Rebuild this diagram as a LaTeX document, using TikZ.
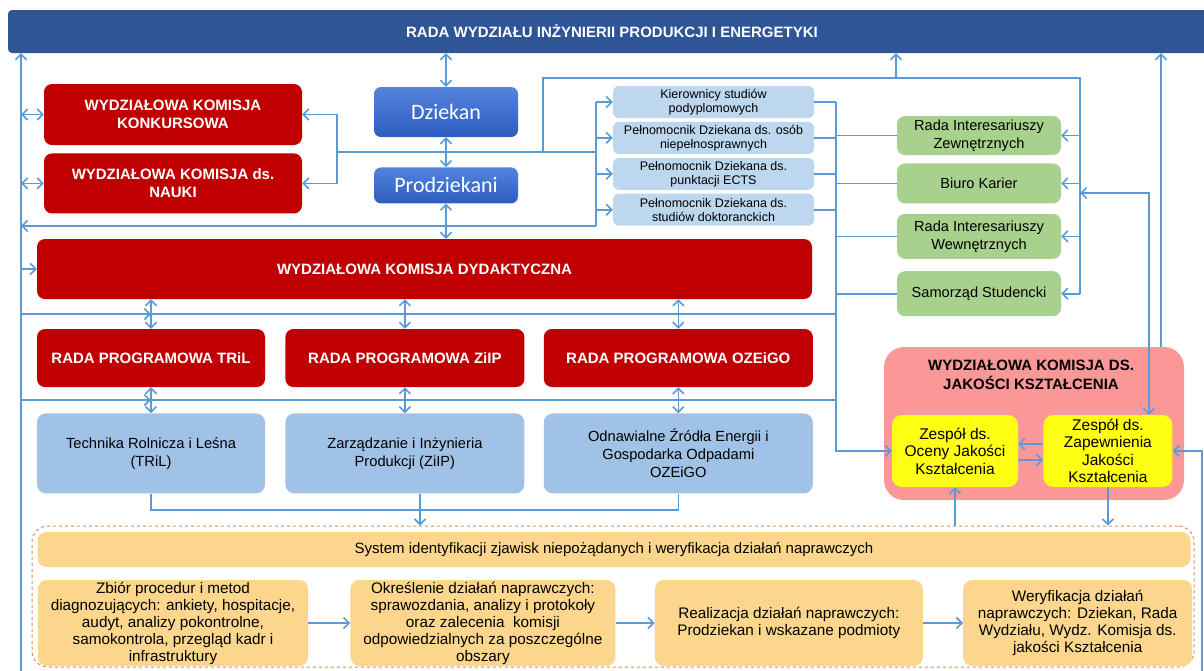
\documentclass[tikz,border=0pt]{standalone}
\usepackage{fontspec}
\setmainfont{Liberation Sans}
\newfontfamily\dzfont{Carlito}
\usetikzlibrary{arrows.meta, positioning}

\definecolor{radablue}{RGB}{47,85,151}
\definecolor{komred}{RGB}{192,0,0}
\definecolor{dztop}{RGB}{84,132,222}
\definecolor{dzbot}{RGB}{44,92,190}
\definecolor{lightbl}{RGB}{189,215,238}
\definecolor{progbl}{RGB}{160,194,230}
\definecolor{grn}{RGB}{169,209,142}
\definecolor{pinkq}{RGB}{250,152,152}
\definecolor{yelq}{RGB}{255,255,20}
\definecolor{orng}{RGB}{252,214,140}
\definecolor{orngdash}{RGB}{215,145,90}
\definecolor{linebl}{RGB}{91,155,213}

\begin{document}
\begin{tikzpicture}[
  x=1pt, y=-1pt,
  >={Straight Barb[length=5.5pt,width=11pt]},
  base/.style={rectangle, align=center, inner sep=1pt},
  radabar/.style={base, fill=radablue, rounded corners=4pt, text=white, font=\fontsize{15}{18}\selectfont\bfseries},
  redbox/.style={base, fill=komred, rounded corners=8pt, text=white, font=\fontsize{15}{18}\selectfont\bfseries},
  dzbox/.style={base, top color=dztop, bottom color=dzbot, rounded corners=7pt, text=white, font=\dzfont\fontsize{22}{24}\selectfont, minimum width=144pt},
  lbbox/.style={base, fill=lightbl, rounded corners=6pt, font=\fontsize{12.5}{14}\selectfont, minimum width=201pt, minimum height=32pt},
  grbox/.style={base, fill=grn, rounded corners=8pt, font=\fontsize{14.6}{18}\selectfont, minimum width=164pt},
  progbox/.style={base, fill=progbl, rounded corners=9pt, font=\fontsize{14.7}{18}\selectfont, minimum height=80pt},
  pinkbox/.style={base, fill=pinkq, rounded corners=20pt},
  ylbox/.style={base, fill=yelq, rounded corners=10pt, font=\fontsize{15.5}{17.5}\selectfont, minimum height=72pt},
  orbox/.style={base, fill=orng, rounded corners=9pt, font=\fontsize{15.3}{17}\selectfont, minimum height=86pt},
  framebox/.style={base, draw=orngdash, dashed, line width=1pt, rounded corners=16pt},
  flow/.style={->, line width=1.6pt, draw=linebl},
  flow2/.style={<->, line width=1.6pt, draw=linebl},
  link/.style={line width=1.6pt, draw=linebl}
]
\useasboundingbox[fill=white] (0,0) rectangle (1204,670);

% Rada Wydzialu
\node[radabar, minimum width=1208pt, minimum height=43pt] (rada) at (612,31.5) {RADA WYDZIAŁU INŻYNIERII PRODUKCJI I ENERGETYKI};

% komisje po lewej
\node[redbox, minimum width=258pt, minimum height=61pt] (wkk) at (173,114.5) {WYDZIAŁOWA KOMISJA\\KONKURSOWA};
\node[redbox, minimum width=258pt, minimum height=60pt, below=8pt of wkk] (wkn) {WYDZIAŁOWA KOMISJA ds.\\NAUKI};

% Dziekan
\node[dzbox, minimum height=50pt] (dziekan) at (446,112) {Dziekan};
\node[dzbox, minimum height=36pt, below=30pt of dziekan] (prodz) {Prodziekani};

% pelnomocnicy
\node[lbbox] (kier) at (713.5,102) {Kierownicy studiów\\podyplomowych};
\node[lbbox, below=3.5pt of kier] (pelnO) {Pełnomocnik Dziekana ds. osób\\niepełnosprawnych};
\node[lbbox, below=3.5pt of pelnO] (pelnE) {Pełnomocnik Dziekana ds.\\punktacji ECTS};
\node[lbbox, below=3.5pt of pelnE] (pelnD) {Pełnomocnik Dziekana ds.\\studiów doktoranckich};

% interesariusze
\node[grbox, minimum height=39pt] (riz) at (979,135.5) {Rada Interesariuszy\\Zewnętrznych};
\node[grbox, minimum height=40pt, below=8pt of riz] (biuro) {Biuro Karier};
\node[grbox, minimum height=45pt, below=10pt of biuro] (riw) {Rada Interesariuszy\\Wewnętrznych};
\node[grbox, minimum height=45pt, below=12pt of riw] (samorz) {Samorząd Studencki};

% komisja dydaktyczna
\node[redbox, minimum width=775pt, minimum height=60pt] (wkd) at (424.5,269) {WYDZIAŁOWA KOMISJA DYDAKTYCZNA};

% rady programowe
\node[redbox, minimum width=228pt, minimum height=58pt] (rpT) at (151,358) {RADA PROGRAMOWA TRiL};
\node[redbox, minimum width=239pt, minimum height=58pt, right=20pt of rpT] (rpZ) {RADA PROGRAMOWA ZiIP};
\node[redbox, minimum width=269pt, minimum height=58pt, right=19pt of rpZ] (rpO) {RADA PROGRAMOWA OZEiGO};

% kierunki
\node[progbox, minimum width=228pt, below=26pt of rpT] (prT) {Technika Rolnicza i Leśna\\(TRiL)};
\node[progbox, minimum width=239pt, below=26pt of rpZ] (prZ) {Zarządzanie i Inżynieria\\Produkcji (ZiIP)};
\node[progbox, minimum width=269pt, below=26pt of rpO] (prO) {Odnawialne Źródła Energii i\\Gospodarka Odpadami\\OZEiGO};

% komisja ds. jakosci
\node[pinkbox, minimum width=300pt, minimum height=153pt] (wkjk) at (1034,423.5) {};
\node[font=\fontsize{15}{19.5}\selectfont\bfseries, align=center] (wkjkT) at (1031,375) {WYDZIAŁOWA KOMISJA DS.\\JAKOŚCI KSZTAŁCENIA};
\node[ylbox, minimum width=126pt] (oceny) at (955,451) {Zespół ds.\\Oceny Jakości\\Kształcenia};
\node[ylbox, minimum width=129pt, right=25pt of oceny] (zapew) {Zespół ds.\\Zapewnienia\\Jakości\\Kształcenia};

% system
\node[framebox, minimum width=1162pt, minimum height=141pt] (frame) at (613,596.5) {};
\node[orbox, minimum width=1153pt, minimum height=35pt, font=\fontsize{15}{18}\selectfont] (sys) at (614,549.5) {System identyfikacji zjawisk niepożądanych i weryfikacja działań naprawczych};
\node[orbox, minimum width=270pt] (b1) at (173,623) {Zbiór procedur i metod\\diagnozujących: ankiety, hospitacje,\\audyt, analizy pokontrolne,\\samokontrola, przegląd kadr i\\infrastruktury};
\node[orbox, minimum width=265pt, right=42pt of b1] (b2) {Określenie działań naprawczych:\\sprawozdania, analizy i protokoły\\oraz zalecenia\ \ komisji\\odpowiedzialnych za poszczególne\\obszary};
\node[orbox, minimum width=268pt, right=39pt of b2] (b3) {Realizacja działań naprawczych:\\Prodziekan i wskazane podmioty};
\node[orbox, minimum width=229pt, right=40pt of b3] (b4) {Weryfikacja działań\\naprawczych: Dziekan, Rada\\Wydziału, Wydz. Komisja ds.\\jakości Kształcenia};

% punkty szyn
\coordinate (lbus) at (21,672);
\coordinate (wbus) at (337,152);
\coordinate (cbus) at (596,102);
\coordinate (tbus) at (543,78);
\coordinate (gbus) at (1080,78);
\coordinate (up1) at (896,78);
\coordinate (rbus) at (836,102);
\coordinate (rowA) at (151,314);
\coordinate (rowB) at (151,400);
\coordinate (jP) at (420,510);
\coordinate (kb) at (1149,193);
\coordinate (rr) at (1161,347);
\coordinate (rbot) at (1202,672);

% lewa szyna
\draw[flow] (lbus) -- (lbus |- rada.south);
\draw[flow2] (lbus |- wkk) -- (wkk.west);
\draw[flow2] (lbus |- wkn) -- (wkn.west);
\draw[flow] (lbus |- wkd) -- (wkd.west);
\draw[flow] (lbus |- rowA) -- (rowA);
\draw[link] (rowA) -- (rowA -| rbus);
\draw[flow] (lbus |- rowB) -- (rowB);
\draw[link] (rowB) -- (rowB -| rbus);

% Dziekan - Prodziekani
\draw[flow2] (rada.south -| dziekan) -- (dziekan.north);
\draw[flow2] (dziekan.south) -- (prodz.north);
\draw[flow2] (prodz.south) -- (prodz.south |- wkd.north);

% do komisji i w gore
\draw[flow] (wbus) |- (wkk.east);
\draw[flow] (wbus) |- (wkn.east);
\draw[link] (wbus) -- (wbus -| cbus);
\draw[link] (tbus |- wbus) -- (tbus) -- (gbus) -- (gbus |- samorz);
\draw[flow] (up1) -- (up1 |- rada.south);

% pelnomocnicy
\draw[link] (cbus) -- (cbus |- pelnD.south);
\foreach \n in {kier, pelnO, pelnE, pelnD} {
  \draw[flow] (cbus |- \n) -- (\n.west);
  \draw[link] (\n.east) -- (rbus |- \n);
}
\draw[flow] (cbus |- pelnD.south) -- (lbus |- pelnD.south);

% interesariusze
\foreach \n in {riz, biuro, riw, samorz} {
  \draw[flow] (gbus |- \n) -- (\n.east);
  \draw[link] (rbus |- \n) -- (\n.west);
}
\draw[flow] (rbus) |- (oceny.west);

% rady programowe i kierunki
\foreach \n in {T, Z, O} {
  \draw[flow2] (rp\n.north) -- (rp\n.north |- wkd.south);
  \draw[flow2] (rp\n.south) -- (pr\n.north);
}
\draw[link] (prT.south) |- (jP);
\draw[link] (prO.south) |- (jP);
\draw[flow] (jP |- prZ.south) -- (jP |- frame.north);

% komisja ds. jakosci
\draw[flow] (rr |- wkjk.north) -- (rr |- rada.south);
\draw[flow2] (gbus |- kb) -- (kb) -- (kb |- zapew.north);
\draw[flow] ([yshift=7pt]zapew.west) -- ([yshift=7pt]oceny.east);
\draw[flow] ([yshift=-9pt]oceny.east) -- ([yshift=-9pt]zapew.west);
\draw[flow] (oceny.south |- frame.north) -- (oceny.south);
\draw[flow] (zapew.south) -- (zapew.south |- frame.north);
\draw[flow] (rbot) |- (zapew.east);

% ciag dzialan naprawczych
\draw[flow] (b1) -- (b2);
\draw[flow] (b2) -- (b3);
\draw[flow] (b3) -- (b4);

\end{tikzpicture}
\end{document}
